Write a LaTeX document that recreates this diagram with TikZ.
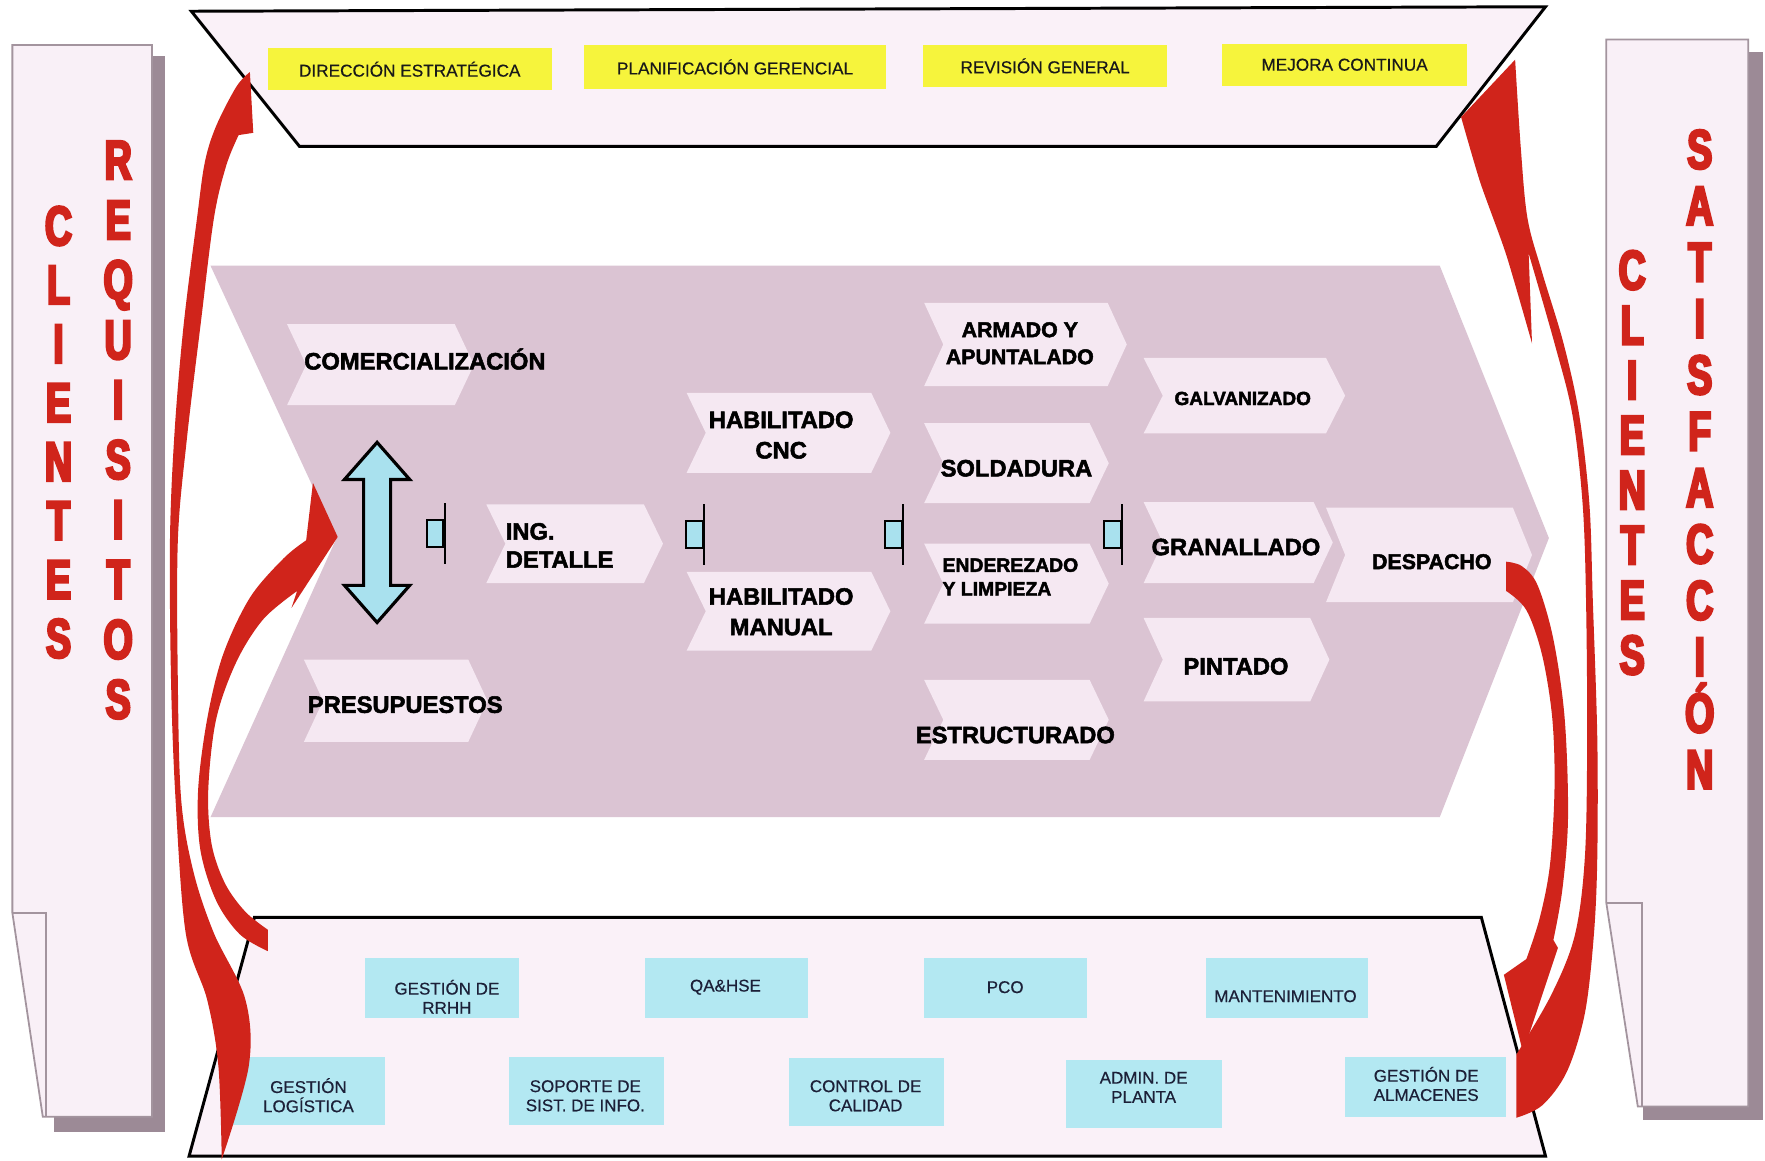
\documentclass[tikz,border=0pt]{standalone}
\usepackage{fontspec}
\setmainfont{Liberation Sans}
\newfontfamily\procfont[FakeBold=2.2]{Liberation Sans}
\newfontfamily\labfont[FakeBold=0.4]{Liberation Sans}
\newfontfamily\panelfont[UprightFont={* Bold}, FakeStretch=0.68, FakeBold=4.5]{Liberation Sans}
\definecolor{bandfill}{HTML}{FAF1F8}
\definecolor{mainchev}{HTML}{DBC4D3}
\definecolor{chevcol}{HTML}{F5E8F2}
\definecolor{panelfill}{HTML}{F9F0F7}
\definecolor{panelborder}{HTML}{A3949E}
\definecolor{shadowc}{HTML}{9C8A96}
\definecolor{yel}{HTML}{F6F43C}
\definecolor{cyanbox}{HTML}{B3E8F2}
\definecolor{lblue}{HTML}{A9E1EE}
\definecolor{redc}{HTML}{D0241B}
\definecolor{navy}{HTML}{1C2038}
\newcommand{\chevshape}[4]{\fill[chevcol] (#1,#2) -- (#3,#2) -- ({#3+17},{(#2+#4)/2}) -- (#3,#4) -- (#1,#4) -- ({#1+17},{(#2+#4)/2}) -- cycle;}
\tikzset{
  proc/.style={font=\procfont\bfseries\fontsize{12}{15.4}\selectfont, align=center, inner sep=0pt, text=black},
  ybox/.style={fill=yel, inner sep=0pt, font=\labfont\fontsize{8.7}{10}\selectfont, text=black!90},
  bbox/.style={fill=cyanbox, inner sep=0pt},
  btext/.style={font=\labfont\fontsize{8.6}{9.7}\selectfont, align=center, inner sep=0pt, text=navy},
  redarrow/.style={fill=redc},
  plett/.style={text=redc, align=center, inner sep=0pt},
  conn/.style={draw, line width=1.1pt, fill=lblue, minimum width=0.3cm, minimum height=0.48cm, inner sep=0pt},
  band/.style={fill=bandfill, draw=black, line width=1.5pt, line join=miter},
  panel/.style={fill=panelfill, draw=panelborder, line width=0.9pt},
}
\begin{document}
\begin{tikzpicture}[x=0.02cm, y=-0.02cm]
\useasboundingbox (0,0) rectangle (1568,1031);
\fill[white] (0,0) rectangle (1568,1031);

% side panels
\fill[shadowc] (48,50) rectangle (147,1006);
\filldraw[panel] (11,40) -- (135,40) -- (135,992) -- (38,992) -- (11,811) -- cycle;
\draw[panelborder, line width=0.9pt] (11,811) -- (41,811) -- (41,992);
\fill[shadowc] (1460,46) rectangle (1566,995);
\filldraw[panel] (1427,35) -- (1553,35) -- (1553,983) -- (1455,983) -- (1427,802) -- cycle;
\draw[panelborder, line width=0.9pt] (1427,802) -- (1459,802) -- (1459,983);

\node[plett, font=\panelfont\fontsize{28}{29.8}\selectfont] (cli1) at (52,384) {C\\L\\I\\E\\N\\T\\E\\S};
\node[plett, font=\panelfont\fontsize{28}{30.3}\selectfont] (req) at (105,382) {R\\E\\Q\\U\\I\\S\\I\\T\\O\\S};
\node[plett, font=\panelfont\fontsize{28}{27.8}\selectfont] (cli2) at (1450,411) {C\\L\\I\\E\\N\\T\\E\\S};
\node[plett, font=\panelfont\fontsize{28}{28.5}\selectfont] (sat) at (1510,408) {S\\A\\T\\I\\S\\F\\A\\C\\C\\I\\Ó\\N};

% top and bottom bands
\filldraw[band] (170,10) -- (1373,6) -- (1276,130) -- (266,130) -- cycle;
\filldraw[band] (226,815) -- (1316,815) -- (1373,1027) -- (168,1027) -- cycle;

\node[ybox, minimum width=5.04cm, minimum height=0.74cm] (dir) at (364,61.5) {DIRECCIÓN ESTRATÉGICA};
\node[ybox, minimum width=5.36cm, minimum height=0.78cm] (plan) at (653,59.5) {PLANIFICACIÓN GERENCIAL};
\node[ybox, minimum width=4.34cm, minimum height=0.74cm] (rev) at (928.5,58.5) {REVISIÓN GENERAL};
\node[ybox, minimum width=4.34cm, minimum height=0.74cm] (mej) at (1194.5,57.5) {MEJORA CONTINUA};

% bottom boxes
\node[bbox, minimum width=2.74cm, minimum height=1.06cm] (rrhhbox) at (392.5,877.5) {};
\node[bbox, minimum width=2.90cm, minimum height=1.06cm] (qabox) at (645.5,877.5) {};
\node[bbox, minimum width=2.90cm, minimum height=1.06cm] (pcobox) at (893.5,877.5) {};
\node[bbox, minimum width=2.88cm, minimum height=1.06cm] (mantbox) at (1143,877.5) {};
\node[bbox, minimum width=2.70cm, minimum height=1.20cm] (logbox) at (274.5,969) {};
\node[bbox, minimum width=2.76cm, minimum height=1.20cm] (sopbox) at (521,969) {};
\node[bbox, minimum width=2.76cm, minimum height=1.20cm] (ctrlbox) at (770,970) {};
\node[bbox, minimum width=2.78cm, minimum height=1.20cm] (admbox) at (1016.5,972) {};
\node[bbox, minimum width=2.86cm, minimum height=1.06cm] (almbox) at (1266.5,965.5) {};
\node[btext] (rrhh) at (397,885.5) {GESTIÓN DE\\RRHH};
\node[btext] (qa) at (644.5,877) {QA\&HSE};
\node[btext] (pco) at (893,877) {PCO};
\node[btext] (mant) at (1142,885) {MANTENIMIENTO};
\node[btext] (log) at (274,973) {GESTIÓN\\LOGÍSTICA};
\node[btext] (sop) at (520,973.5) {SOPORTE DE\\SIST. DE INFO.};
\node[btext] (ctrl) at (769,973.5) {CONTROL DE\\CALIDAD};
\node[btext] (adm) at (1016,966) {ADMIN. DE\\PLANTA};
\node[btext] (alm) at (1267,963) {GESTIÓN DE\\ALMACENES};

% main value chain
\fill[mainchev] (187,236) -- (1279,236) -- (1376,478) -- (1279,726) -- (187,726) -- (299,478) -- cycle;
\chevshape{255}{288}{404}{360}
\chevshape{270}{586}{416}{659}
\chevshape{432}{448}{572}{518}
\chevshape{610}{349}{774}{420}
\chevshape{610}{508}{774}{578}
\chevshape{821}{269}{984}{343}
\chevshape{821}{376}{968}{447}
\chevshape{821}{483}{968}{554}
\chevshape{821}{604}{968}{675}
\chevshape{1016}{318}{1178}{385}
\chevshape{1016}{446}{1167}{518}
\chevshape{1016}{549}{1164}{623}
\chevshape{1178}{451}{1344}{535}

\node[proc] (com) at (377.5,319) {COMERCIALIZACIÓN};
\node[proc] (pre) at (360,626) {PRESUPUESTOS};
\node[proc, align=left, anchor=west, font=\procfont\bfseries\fontsize{12}{14.2}\selectfont] (ing) at (449,484.5) {ING.\\DETALLE};
\node[proc] (hcnc) at (694,386.5) {HABILITADO\\CNC};
\node[proc] (hman) at (694,543.5) {HABILITADO\\MANUAL};
\node[proc, font=\procfont\bfseries\fontsize{10.8}{13.7}\selectfont] (arm) at (906,305) {ARMADO Y\\APUNTALADO};
\node[proc] (sol) at (903,416) {SOLDADURA};
\node[proc, align=left, anchor=west, font=\procfont\bfseries\fontsize{9.8}{12}\selectfont] (end) at (837,512.5) {ENDEREZADO\\Y LIMPIEZA};
\node[proc] (est) at (902,653) {ESTRUCTURADO};
\node[proc, font=\procfont\bfseries\fontsize{9.6}{12}\selectfont] (gal) at (1104,354) {GALVANIZADO};
\node[proc] (gra) at (1098,486) {GRANALLADO};
\node[proc] (pin) at (1098,592) {PINTADO};
\node[proc, font=\procfont\bfseries\fontsize{10.8}{13}\selectfont] (des) at (1272,499) {DESPACHO};

% double arrow
\filldraw[fill=lblue, draw=black, line width=1.6pt, line join=miter]
  (335,393) -- (364,426) -- (347,426) -- (347,520) -- (364,520) -- (335,553)
  -- (306,520) -- (323,520) -- (323,426) -- (306,426) -- cycle;

% connectors
\node[conn] (c1) at (386.5,474) {};
\node[conn] (c2) at (617,475) {};
\node[conn] (c3) at (794,475) {};
\node[conn] (c4) at (988.5,475) {};
\foreach \c in {c1,c2,c3,c4}{\draw[line width=1.1pt] (\c.east) ++(0,-27) -- ++(0,54);}

% red arrows
% A: bottom-left up to top band
\fill[redarrow] (222,64)
  -- plot[smooth, tension=0.55] coordinates {(222,64) (210,77) (192,112) (182,144) (175,194) (163,290) (155,385) (151,480) (152,607) (156,711) (165,829) (184,888) (194,947) (197,1030)}
  -- plot[smooth, tension=0.55] coordinates {(197,1030) (221,947) (218,888) (190,829) (172,775) (161,711) (158,607) (158,480) (166,390) (178,290) (190,194) (201,147) (212,120)}
  -- (225,118) -- cycle;
% B: bottom band corner to chevron notch
\fill[redarrow] (278,429) -- (300,477) -- (259,540) -- (264,525)
  -- plot[smooth, tension=0.55] coordinates {(264,525) (234,550) (210,588) (192,639) (185,702) (188,750) (200,785) (218,810) (238,826)}
  -- (238,845)
  -- plot[smooth, tension=0.55] coordinates {(238,845) (213,830) (192,800) (178,755) (176,702) (184,639) (198,582) (222,531) (252,496) (272,480)}
  -- cycle;
% C: bottom band right corner up to top band
\fill[redarrow] (1347,937) -- (1347,993)
  -- plot[smooth, tension=0.55] coordinates {(1347,993) (1370,982) (1392,952) (1408,900) (1416,830) (1419,761) (1419,656) (1415,533) (1412,448) (1403,369) (1389,305) (1370,242) (1357,194) (1351,131) (1346,53)}
  -- (1298,104)
  -- plot[smooth, tension=0.4] coordinates {(1298,104) (1315,162) (1338,226) (1361,305)}
  -- (1358,225)
  -- plot[smooth, tension=0.55] coordinates {(1358,225) (1381,305) (1397,369) (1406,448) (1409,533) (1410,656) (1408,761) (1399,831) (1378,884) (1347,937)}
  -- cycle;
% D: DESPACHO down to bottom band corner
\fill[redarrow] (1338,499)
  -- plot[smooth, tension=0.55] coordinates {(1338,499) (1352,503) (1366,520) (1380,568) (1390,638) (1393,726) (1388,790) (1380,835)}
  -- (1384,842) -- (1353,935) -- (1336,866) -- (1356,852)
  -- plot[smooth, tension=0.55] coordinates {(1356,852) (1368,815) (1377,768) (1381,700) (1379,638) (1370,582) (1356,542) (1338,525)}
  -- cycle;
\end{tikzpicture}
\end{document}
